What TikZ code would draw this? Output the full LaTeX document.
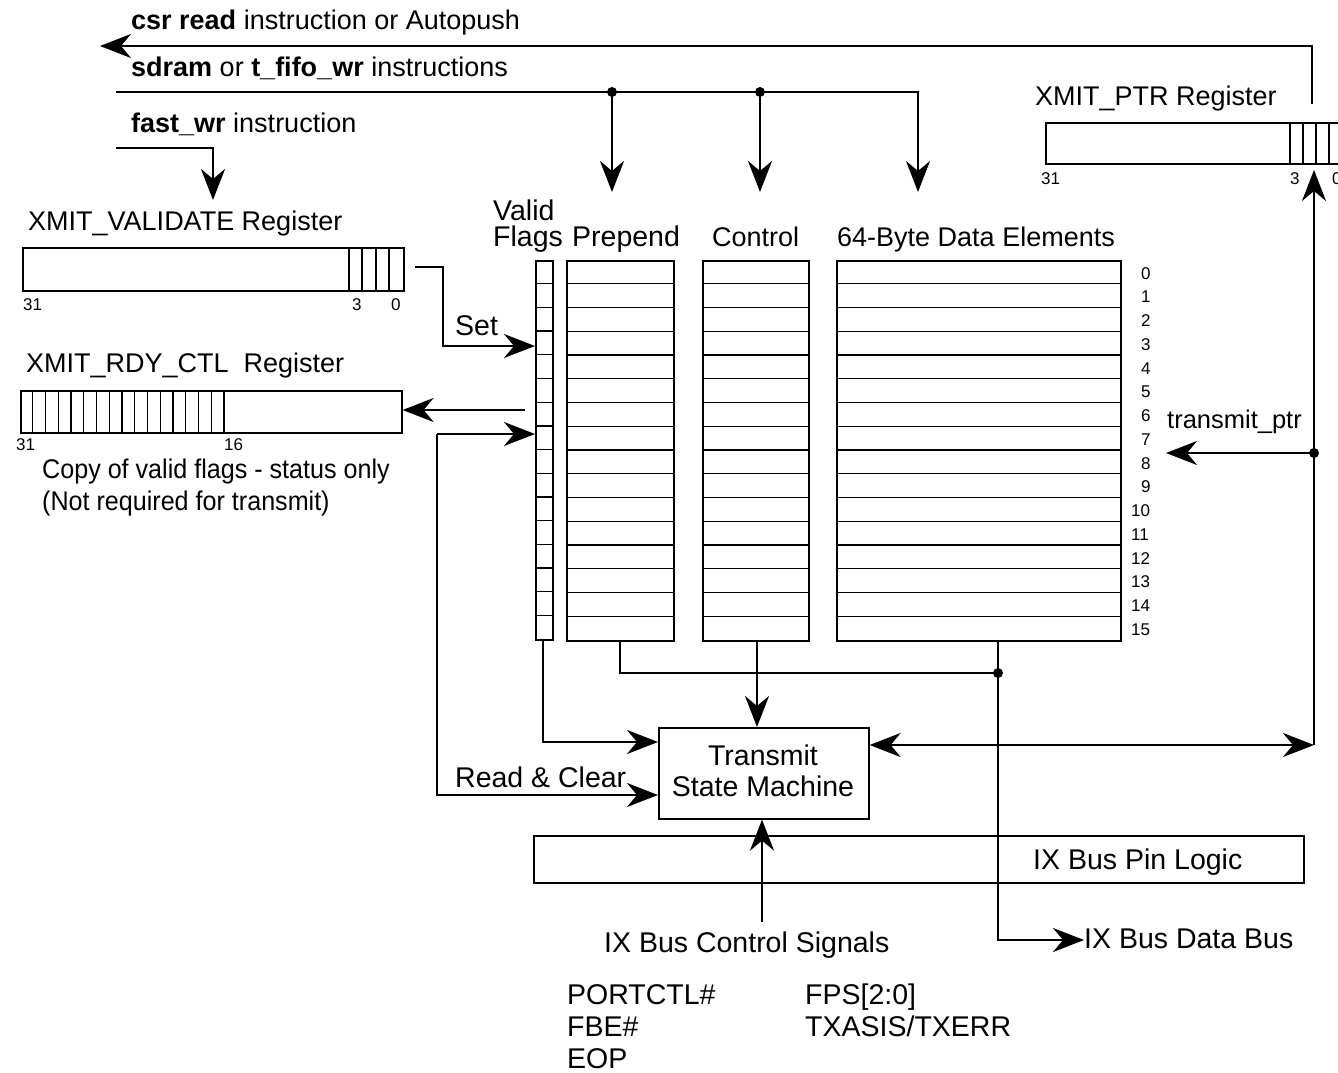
\documentclass[tikz,border=0pt]{standalone}
\usepackage{fontspec}
\setmainfont{Liberation Sans}
\usetikzlibrary{arrows.meta,calc}
\begin{document}
\begin{tikzpicture}[x=1pt,y=-1pt,
 box/.style={draw,line width=1.6pt,inner sep=0pt,anchor=north west},
 wire/.style={line width=2.6pt},
 tip/.tip={Stealth[length=31pt,width=24pt,inset=10pt]},
 arr/.style={wire,-tip},
 darr/.style={wire,tip-tip},
 cell/.style={line width=1.3pt},
 lbl/.style={font=\fontsize{27}{31}\selectfont,inner sep=0pt,anchor=base west},
 big/.style={font=\fontsize{28.5}{33}\selectfont,inner sep=0pt,anchor=base west},
 num/.style={font=\fontsize{17}{19}\selectfont,inner sep=0pt,anchor=base west},
 dot/.style={circle,fill,inner sep=0pt,minimum size=10pt}]
\useasboundingbox (0,0) rectangle (1338,1073);

% ---------- top labels ----------
\node[lbl] (tcsr) at (131,30) {\textbf{csr read} instruction or Autopush};
\node[lbl] (tsdr) at (131,77) {\textbf{sdram} or \textbf{t\_fifo\_wr} instructions};
\node[lbl] (tfw) at (131,132) {\textbf{fast\_wr} instruction};

% ---------- registers ----------
\node[lbl] (tval) at (28,230) {XMIT\_VALIDATE Register};
\node[box,minimum width=381pt,minimum height=43pt] (val) at (22,247) {};
\foreach \x in {349,362,376,389} \draw[cell] (\x,247) -- (\x,290);
\node[num] at (23,310) {31};
\node[num] at (352,310) {3};
\node[num] at (391,310) {0};

\node[lbl] (trdy) at (26,372) {XMIT\_RDY\_CTL\ \ Register};
\node[box,minimum width=381pt,minimum height=42pt] (rdy) at (20,390) {};
\foreach \k in {1,...,16} \draw[cell] ({20+\k*12.75},390) -- ({20+\k*12.75},432);
\node[num] at (16,450) {31};
\node[num] at (224,450) {16};
\node[lbl] (tcopy) at (42,478) {\scalebox{0.93}[1]{Copy of valid flags - status only}};
\node[lbl] (tnot) at (42,510) {\scalebox{0.93}[1]{(Not required for transmit)}};

\node[lbl] (tptr) at (1035,105) {XMIT\_PTR Register};
\node[box,minimum width=310pt,minimum height=41pt] (ptr) at (1045,122) {};
\foreach \x in {1290,1303,1316,1329} \draw[cell] (\x,122) -- (\x,163);
\node[num] at (1041,184) {31};
\node[num] at (1290,184) {3};
\node[num] at (1332,184) {0};

% ---------- columns ----------
\node[big] (tvalid) at (493,220) {Valid};
\node[big] (tflags) at (493,246) {Flags};
\node[big] (tpre) at (572,246) {Prepend};
\node[lbl] (tctl) at (712,246) {Control};
\node[lbl] (tdat) at (837,246) {64-Byte Data Elements};

\node[box,minimum width=17pt,minimum height=379pt] (vf) at (535,260) {};
\node[box,minimum width=107pt,minimum height=380pt] (pre) at (566,260) {};
\node[box,minimum width=106pt,minimum height=380pt] (ctl) at (702,260) {};
\node[box,minimum width=284pt,minimum height=380pt] (dat) at (836,260) {};
\foreach \k in {1,...,15}{
  \draw[cell] (535,{260+\k*23.7}) -- (552,{260+\k*23.7});
  \draw[cell] (566,{260+\k*23.75}) -- (673,{260+\k*23.75});
  \draw[cell] (702,{260+\k*23.75}) -- (808,{260+\k*23.75});
  \draw[cell] (836,{260+\k*23.75}) -- (1120,{260+\k*23.75});
}
\foreach \k in {0,...,9} \node[num] at (1141,{279+\k*23.75}) {\k};
\foreach \k in {10,...,15} \node[num] at (1131,{279+\k*23.75}) {\k};

% ---------- TSM and pin logic ----------
\node[box,minimum width=210pt,minimum height=91pt] (tsm) at (658,727) {};
\node[font=\fontsize{28.5}{31}\selectfont,align=center,inner sep=0pt] (tsmt) at (763,771) {Transmit\\State Machine};
\node[box,minimum width=770pt,minimum height=47pt] (pin) at (533,835) {};
\node[big] (tpin) at (1033,869) {IX Bus Pin Logic};

\node[big] (tctlsig) at (604,952) {IX Bus Control Signals};
\node[big] (tdbus) at (1084,948) {IX Bus Data Bus};
\node[big] (s1) at (567,1004) {PORTCTL\#};
\node[big] (s2) at (567,1036) {FBE\#};
\node[big] (s3) at (567,1068) {EOP};
\node[big] (s4) at (805,1004) {FPS[2:0]};
\node[big] (s5) at (805,1036) {TXASIS/TXERR};

\node[big] (tset) at (455,335) {Set};
\node[big] (trc) at (455,787) {Read \& Clear};
\node[font=\fontsize{25.5}{29}\selectfont,inner sep=0pt,anchor=base west] (ttp) at (1167,428) {transmit\_ptr};

% ---------- coordinates ----------
\coordinate (csrEnd) at (100,46);
\coordinate (ptrTop) at (1312,104);
\coordinate (sdrStart) at (116,92);
\coordinate (fwStart) at (116,148);
\coordinate (j1) at (612,92);
\coordinate (j2) at (760,92);
\coordinate (j3) at (998,673);
\coordinate (jr) at (1314,453);
\coordinate (rb) at (1314,745);

% ---------- connectors ----------
\draw[arr] (ptrTop) -- (1312,46) -- (csrEnd);
\draw[arr] (sdrStart) -- (918,92) -- (918,192);
\draw[arr] (j1) -- (612,192);
\draw[arr] (j2) -- (760,192);
\node[dot] at (j1) {};
\node[dot] at (j2) {};
\draw[arr] (fwStart) -- (213,148) -- (213,200);

\draw[arr] (415,267) -- (443,267) -- (443,346) -- (vf.west |- 0,346);
\draw[arr] (525,410) -- (rdy.east |- 0,410);
\draw[arr] (437,434) -- (vf.west |- 0,434);
\draw[arr] (437,434) -- (437,795) -- (tsm.west |- 0,795);
\draw[arr] (543,639) -- (543,742) -- (tsm.west |- 0,742);
\draw[wire] (620,640) -- (620,673) -- (j3);
\node[dot] at (j3) {};
\draw[arr] (757,640) -- (tsm.north -| 757,0);
\draw[arr] (998,640) -- (998,940) -- (tdbus.west |- 0,940);
\draw[arr] (762,922) -- (tsm.south -| 762,0);
\draw[darr] (tsm.east |- 0,745) -- (rb);
\draw[arr] (rb) -- (1314,170);
\node[dot] at (jr) {};
\draw[arr] (jr) -- (1166,453);
\end{tikzpicture}
\end{document}
